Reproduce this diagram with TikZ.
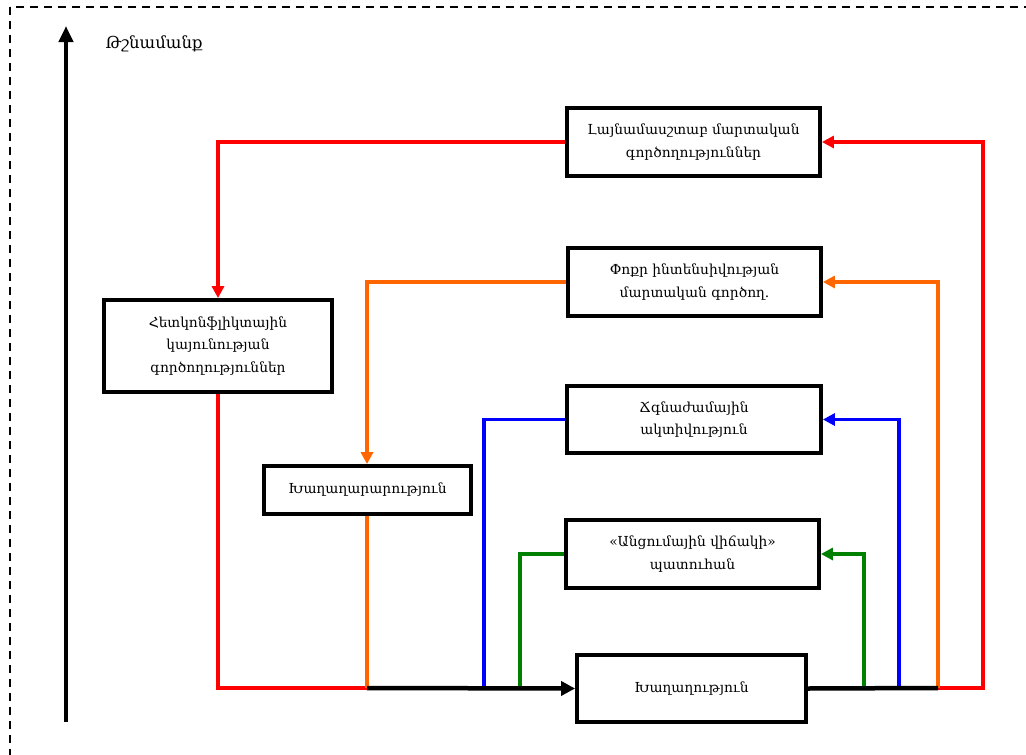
\documentclass[tikz,border=0pt]{standalone}
\usepackage{fontspec}
\setmainfont{DejaVu Serif}
\usetikzlibrary{arrows.meta}
\definecolor{cred}{RGB}{255,0,0}
\definecolor{corange}{RGB}{255,102,0}
\definecolor{cblue}{RGB}{0,0,255}
\definecolor{cgreen}{RGB}{0,128,0}
\tikzset{
  box/.style={draw=black, line width=3.8pt, fill=white, align=center, inner sep=0pt,
    font=\fontsize{13.8}{22.5}\selectfont},
  conn/.style={line width=3.5pt},
  tip/.style={-{Triangle[length=12pt,width=12pt]}},
}
\begin{document}
\begin{tikzpicture}[x=1pt,y=-1pt]
\useasboundingbox (0,0) rectangle (1026,755);
\draw[line width=1.8pt, dash pattern=on 8pt off 6pt] (10,7) rectangle (1050,780);
% time axis
\coordinate (axb) at (66,722);
\coordinate (axt) at (66,26);
\draw[line width=4.5pt, -{Triangle[length=16pt,width=14pt]}] (axb) -- (axt);
\node[anchor=west, font=\fontsize{16.5}{18}\selectfont] (enemy) at (102,44) {Թշնամանք};
% boxes
\node[box, minimum width=253, minimum height=68] (large) at (693.5,142) {Լայնամասշտաբ մարտական\\գործողություններ};
\node[box, minimum width=253, minimum height=68] (small) at (694.5,282) {Փոքր ինտենսիվության\\մարտական գործող.};
\node[box, minimum width=228, minimum height=92] (post) at (218,346) {Հետկոնֆլիկտային\\կայունության\\գործողություններ};
\node[box, minimum width=254, minimum height=67] (crisis) at (694,419.5) {Ճգնաժամային\\ակտիվություն};
\node[box, minimum width=207, minimum height=48] (making) at (367.5,490) {Խաղաղարարություն};
\node[box, minimum width=253, minimum height=68] (trans) at (692.5,554) {«Անցումային վիճակի»\\պատուհան};
\node[box, minimum width=229, minimum height=67] (peace) at (691.5,688.5) {Խաղաղություն};
% bend coordinates
\coordinate (rl) at (218,688);
\coordinate (ojoin) at (367,688);
\coordinate (bl) at (484,688);
\coordinate (gl) at (520,688);
\coordinate (gr) at (864,688);
\coordinate (br) at (899,688);
\coordinate (or) at (938,688);
\coordinate (rr) at (983,688);
% left-side feeders
\draw[conn, cred] (post.south) -- (rl) -- (ojoin);
\draw[conn, corange] (making.south -| ojoin) -- (ojoin);
\draw[conn, cblue] (bl) |- (crisis.west);
\draw[conn, cgreen] (gl) |- (trans.west);
\draw[line width=4.5pt, black, -{Triangle[length=14pt,width=14pt]}] (ojoin) -- (peace.west);
% top loop
\draw[conn, cred, tip] (large.west) -| (post.north);
\draw[conn, corange, tip] (small.west) -| (making.north -| ojoin);
% right side
\draw[conn, cred, tip] (or) -- (rr) |- (large.east);
\draw[conn, corange, tip] (or) |- (small.east);
\draw[conn, cblue, tip] (br) |- (crisis.east);
\draw[conn, cgreen, tip] (gr) |- (trans.east);
\draw[line width=4.5pt, black] (peace.east) -- (or);
\end{tikzpicture}
\end{document}
